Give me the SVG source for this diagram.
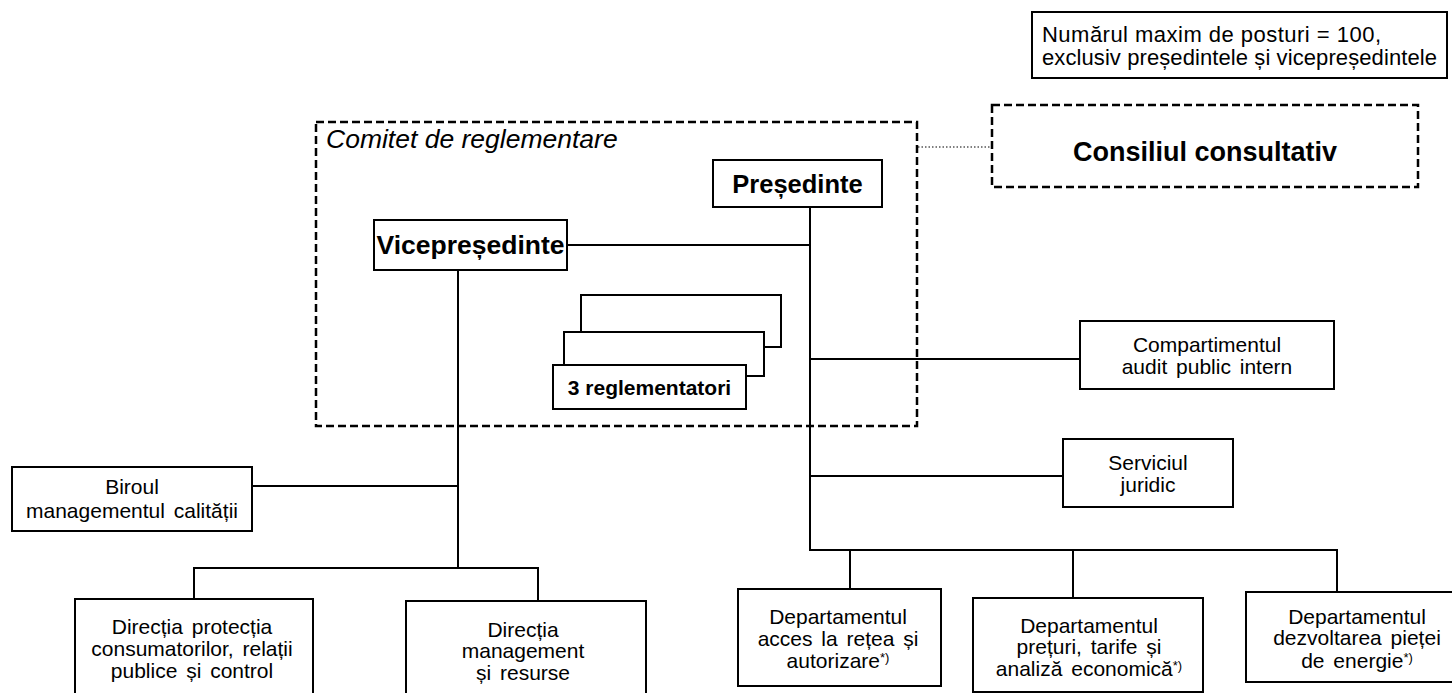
<svg xmlns="http://www.w3.org/2000/svg" width="1452" height="693" viewBox="0 0 1452 693">
<style>
text{font-family:"Liberation Sans",Arial,sans-serif;fill:#000}
.t{font-size:21px;text-anchor:middle;word-spacing:3px}
.b{font-weight:bold;text-anchor:middle}
.box{fill:#fff;stroke:#000;stroke-width:2}
.dash{fill:none;stroke:#000;stroke-width:2.5;stroke-dasharray:8 4}
.ln{fill:none;stroke:#000;stroke-width:2}
.sup{font-size:13px}
</style>
<rect width="1452" height="693" fill="#fff"/>
<g id="note">
<rect class="box" x="1032" y="12" width="415" height="66"/>
<text x="1042" y="42" style="font-size:22px" textLength="339" lengthAdjust="spacing">Numărul maxim de posturi = 100,</text>
<text x="1042" y="65" style="font-size:22px" textLength="395" lengthAdjust="spacing">exclusiv președintele și vicepreședintele</text>
</g>
<g id="connectors">
<line class="ln" x1="918" y1="147" x2="992" y2="147" style="stroke-width:1.2;stroke-dasharray:1.5 2"/>
<polyline class="ln" points="567,245 810,245"/>
<line class="ln" x1="810" y1="207" x2="810" y2="551"/>
<line class="ln" x1="810" y1="359" x2="1080" y2="359"/>
<line class="ln" x1="810" y1="476" x2="1063" y2="476"/>
<polyline class="ln" points="809,550 1337,550 1337,592"/>
<line class="ln" x1="850" y1="550" x2="850" y2="589"/>
<line class="ln" x1="1073" y1="550" x2="1073" y2="598"/>
<line class="ln" x1="458" y1="270" x2="458" y2="569"/>
<line class="ln" x1="252" y1="486" x2="458" y2="486"/>
<polyline class="ln" points="194,599 194,568 538,568 538,601"/>
</g>
<g id="comitet">
<rect class="dash" x="316" y="122" width="601" height="304"/>
<text x="326" y="148" style="font-size:26.5px;font-style:italic">Comitet de reglementare</text>
</g>
<g id="consiliul">
<rect class="dash" x="992" y="105" width="426" height="82"/>
<text class="b" x="1205" y="161" style="font-size:27px">Consiliul consultativ</text>
</g>
<g id="presedinte">
<rect class="box" x="713" y="160" width="169" height="47"/>
<text class="b" x="797.5" y="193" style="font-size:25.5px">Președinte</text>
</g>
<g id="vicepresedinte">
<rect class="box" x="374" y="220" width="193" height="50"/>
<text class="b" x="470.5" y="254" style="font-size:26.5px">Vicepreședinte</text>
</g>
<g id="reglementatori">
<rect class="box" x="581" y="295" width="200" height="52"/>
<rect class="box" x="564" y="332" width="200" height="44"/>
<rect class="box" x="553" y="365" width="193" height="44"/>
<text class="b" x="649.5" y="395" style="font-size:21px">3 reglementatori</text>
</g>
<g id="audit">
<rect class="box" x="1080" y="321" width="254" height="68"/>
<text class="t" x="1207" y="352">Compartimentul</text>
<text class="t" x="1207" y="374">audit public intern</text>
</g>
<g id="juridic">
<rect class="box" x="1063" y="439" width="170" height="68"/>
<text class="t" x="1148" y="470">Serviciul</text>
<text class="t" x="1148" y="492">juridic</text>
</g>
<g id="biroul">
<rect class="box" x="12" y="467" width="240" height="64"/>
<text class="t" x="132" y="494">Biroul</text>
<text class="t" x="132" y="518">managementul calității</text>
</g>
<g id="directia-protectia">
<rect class="box" x="75" y="599" width="238" height="110"/>
<text class="t" x="192" y="634">Direcția protecția</text>
<text class="t" x="192" y="656">consumatorilor, relații</text>
<text class="t" x="192" y="678">publice și control</text>
</g>
<g id="directia-management">
<rect class="box" x="406" y="601" width="240" height="110"/>
<text class="t" x="523" y="637">Direcția</text>
<text class="t" x="523" y="658">management</text>
<text class="t" x="523" y="680">și resurse</text>
</g>
<g id="dep-acces">
<rect class="box" x="738" y="589" width="203" height="97"/>
<text class="t" x="838" y="624">Departamentul</text>
<text class="t" x="838" y="646">acces la rețea și</text>
<text class="t" x="838" y="668">autorizare<tspan class="sup" dy="-6">*)</tspan></text>
</g>
<g id="dep-preturi">
<rect class="box" x="973" y="598" width="230" height="94"/>
<text class="t" x="1089" y="633">Departamentul</text>
<text class="t" x="1089" y="654">prețuri, tarife și</text>
<text class="t" x="1089" y="676">analiză economică<tspan class="sup" dy="-6">*)</tspan></text>
</g>
<g id="dep-dezvoltare">
<rect class="box" x="1246" y="592" width="222" height="90"/>
<text class="t" x="1357" y="624">Departamentul</text>
<text class="t" x="1357" y="645">dezvoltarea pieței</text>
<text class="t" x="1357" y="668">de energie<tspan class="sup" dy="-6">*)</tspan></text>
</g>
</svg>
